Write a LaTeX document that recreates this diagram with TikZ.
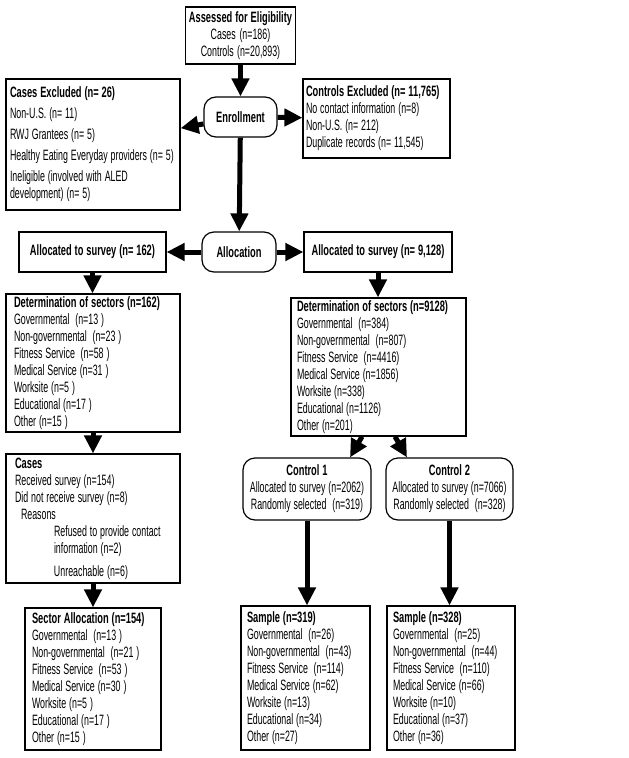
\documentclass[tikz,border=0pt]{standalone}
\usepackage{fontspec}
\setmainfont{Liberation Sans}[FakeStretch=0.59, BoldFeatures={FakeStretch=0.62}]
\usetikzlibrary{arrows.meta}
\newcommand{\boxfont}{\fontsize{15}{17}\selectfont}

\begin{document}
\begin{tikzpicture}[x=1pt, y=-1pt,
	box/.style={draw, line width=1.2pt, inner ysep=0pt, align=left, font=\boxfont, execute at begin node={\spaceskip 2.9pt plus 1pt minus .5pt\relax}},
	rbox/.style={box, rounded corners=12pt, align=center},
	arr/.style={-{Triangle[length=18pt, width=17pt]}, line width=5pt}]
	\useasboundingbox (0,0) rectangle (629,758);
	\node[box, align=center, text width=108pt, inner xsep=1pt, minimum height=57pt] (assess) at (240.5,35.5) {\textbf{Assessed for Eligibility}\\Cases (n=186)\\Controls (n=20,893)};
	\node[rbox, minimum width=73pt, minimum height=40pt] (enroll) at (240.5,117) {\textbf{Enrollment}};
	\node[box, text width=166pt, inner xsep=4pt, minimum height=131pt] (cases_excl) at (93,144.5) {\textbf{Cases Excluded (n= 26)}\\[4pt]Non-U.S. (n= 11)\\[4pt]RWJ Grantees (n= 5)\\[4pt]Healthy Eating Everyday providers (n= 5)\\[4pt]Ineligible (involved with ALED\\development) (n= 5)};
	\node[box, text width=141pt, inner xsep=3pt, minimum height=79pt] (ctrl_excl) at (376.5,118.5) {\textbf{Controls Excluded (n= 11,765)}\\No contact information (n=8)\\Non-U.S. (n= 212)\\Duplicate records (n= 11,545)};
	\node[rbox, minimum width=74pt, minimum height=40pt] (alloc) at (239,252) {\textbf{Allocation}};
	\node[box, align=center, minimum width=147pt, minimum height=40pt] (alloc_cases) at (92.5,252) {\textbf{Allocated to survey (n= 162)}};
	\node[box, align=center, minimum width=148pt, minimum height=40pt] (alloc_ctrl) at (378,252) {\textbf{Allocated to survey (n= 9,128)}};
	\node[box, text width=158pt, inner xsep=8pt, minimum height=138pt] (det_cases) at (93,363) {\textbf{Determination of sectors (n=162)}\\Governmental\ \ (n=13 )\\Non-governmental\ \ (n=23 )\\Fitness Service\ \ (n=58 )\\Medical Service (n=31 )\\Worksite (n=5 )\\Educational (n=17 )\\Other (n=15 )};
	\node[box, text width=163pt, inner xsep=6pt, minimum height=138pt] (det_ctrl) at (378.5,367) {\textbf{Determination of sectors (n=9128)}\\Governmental\ \ (n=384)\\Non-governmental\ \ (n=807)\\Fitness Service\ \ (n=4416)\\Medical Service (n=1856)\\Worksite (n=338)\\Educational (n=1126)\\Other (n=201)};
	\node[box, text width=156pt, inner xsep=9pt, minimum height=129pt] (cases) at (93,518.5) {\textbf{Cases}\\Received survey (n=154)\\Did not receive survey (n=8)\\\hspace*{6pt}Reasons\\\hspace*{39pt}Refused to provide contact\\\hspace*{39pt}information (n=2)\\[6pt]\hspace*{39pt}Unreachable (n=6)};
	\node[box, text width=122pt, inner xsep=7pt, minimum height=142pt] (sect_cases) at (93,679) {\textbf{Sector Allocation (n=154)}\\Governmental\ \ (n=13 )\\Non-governmental\ \ (n=21 )\\Fitness Service\ \ (n=53 )\\Medical Service (n=30 )\\Worksite (n=5 )\\Educational (n=17 )\\Other (n=15 )};
	\node[rbox, minimum width=128pt, minimum height=62pt, inner xsep=3pt] (ctrl1) at (307,489) {\textbf{Control 1}\\Allocated to survey (n=2062)\\Randomly selected\ \ (n=319)};
	\node[rbox, minimum width=127pt, minimum height=62pt, inner xsep=3pt] (ctrl2) at (449.5,489) {\textbf{Control 2}\\Allocated to survey (n=7066)\\Randomly selected\ \ (n=328)};
	\node[box, text width=117pt, inner xsep=6pt, minimum height=144pt] (samp1) at (305.5,678) {\textbf{Sample (n=319)}\\Governmental\ \ (n=26)\\Non-governmental\ \ (n=43)\\Fitness Service\ \ (n=114)\\Medical Service (n=62)\\Worksite (n=13)\\Educational (n=34)\\Other (n=27)};
	\node[box, text width=116pt, inner xsep=6pt, minimum height=144pt] (samp2) at (451,678) {\textbf{Sample (n=328)}\\Governmental\ \ (n=25)\\Non-governmental\ \ (n=44)\\Fitness Service\ \ (n=110)\\Medical Service (n=66)\\Worksite (n=10)\\Educational (n=37)\\Other (n=36)};

	\draw[arr] (assess) -- (enroll);
	\draw[arr] (enroll) -- (cases_excl);
	\draw[arr] (enroll) -- (ctrl_excl);
	\draw[arr] (enroll) -- (alloc);
	\draw[arr] (alloc) -- (alloc_cases);
	\draw[arr] (alloc) -- (alloc_ctrl);
	\draw[arr] (alloc_cases) -- (det_cases.north -| alloc_cases);
	\draw[arr] (alloc_ctrl) -- (det_ctrl.north -| alloc_ctrl);
	\draw[arr] (det_cases) -- (cases);
	\draw[arr] (cases) -- (sect_cases);
	\draw[arr] ([xshift=-16.5pt]det_ctrl.south) -- ([xshift=43pt]ctrl1.north);
	\draw[arr] ([xshift=16.5pt]det_ctrl.south) -- ([xshift=-42.5pt]ctrl2.north);
	\draw[arr] (ctrl1) -- (ctrl1.south |- samp1.north);
	\draw[arr] (ctrl2) -- (ctrl2.south |- samp2.north);
\end{tikzpicture}
\end{document}
